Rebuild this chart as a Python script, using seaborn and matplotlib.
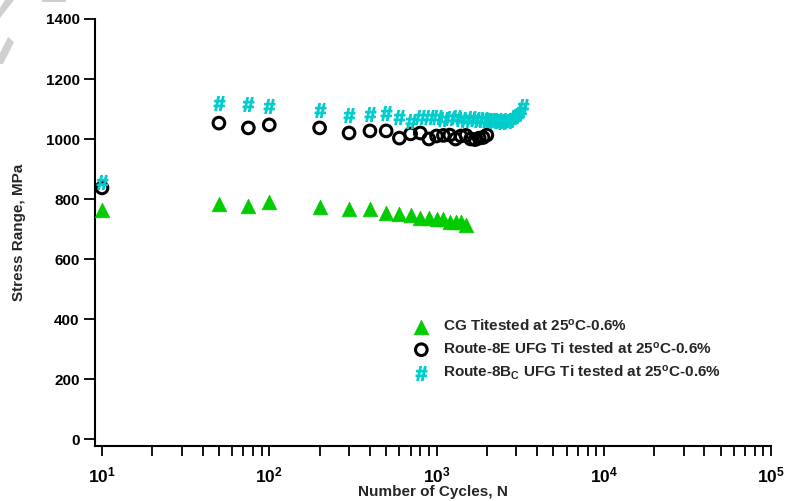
import matplotlib
matplotlib.use("Agg")
import matplotlib.pyplot as plt
from matplotlib.patches import Polygon
import numpy as np
import pandas as pd
import seaborn as sns

# Coarse-grained Ti, tested at 25 C, 0.6 % strain amplitude
cg_cycles = [10, 50, 75, 100, 200, 300, 400, 500, 600, 700, 800, 900,
             1000, 1100, 1200, 1300, 1400, 1500]
cg_stress = [765, 783, 778, 790, 773, 768, 767, 752, 750, 748, 737, 736,
             735, 733, 725, 724, 722, 712]

# Route-8E UFG Ti
e_cycles = [10, 50, 75, 100, 200, 300, 400, 500, 600, 700, 800, 900,
            1000, 1100, 1200, 1300, 1400, 1500, 1600, 1700, 1800, 1900, 2000]
e_stress = [837, 1053, 1037, 1047, 1037, 1020, 1027, 1027, 1003, 1017, 1020, 1000,
            1010, 1012, 1013, 1000, 1010, 1012, 1000, 998, 1003, 1005, 1013]

# Route-8Bc UFG Ti
bc_cycles = [10, 50, 75, 100, 200, 300, 400, 500, 600, 700, 800, 900,
             1000, 1100, 1200, 1300, 1400, 1500, 1600, 1700, 1800, 1900, 2000,
             2100, 2200, 2300, 2400, 2500, 2600, 2700, 2800, 2900, 3000, 3100,
             3200, 3300]
bc_stress = [857, 1120, 1117, 1110, 1097, 1080, 1083, 1087, 1072, 1060, 1072, 1075,
             1073, 1066, 1070, 1072, 1066, 1065, 1070, 1067, 1062, 1066, 1062,
             1065, 1060, 1063, 1060, 1058, 1062, 1060, 1065, 1072, 1078, 1085,
             1095, 1110]

labels = [r"CG Titested at 25$^{\rm o}$C-0.6%",
          r"Route-8E UFG Ti tested at 25$^{\rm o}$C-0.6%",
          r"Route-8B$_{\rm C}$ UFG Ti tested at 25$^{\rm o}$C-0.6%"]

y_ticks = [0, 200, 400, 600, 800, 1000, 1200, 1400]

sns.set_theme(style="white")
plt.rcParams["font.family"] = ["Liberation Sans", "DejaVu Sans"]
plt.rcParams["font.weight"] = "bold"
plt.rcParams["axes.labelweight"] = "bold"
plt.rcParams["mathtext.fontset"] = "custom"
plt.rcParams["mathtext.rm"] = "Liberation Sans:bold"
plt.rcParams["mathtext.bf"] = "Liberation Sans:bold"
plt.rcParams["mathtext.it"] = "Liberation Sans:bold"
plt.rcParams["mathtext.default"] = "rm"

W, H = 785, 501
fig = plt.figure(figsize=(W / 100, H / 100), dpi=100)
ax = fig.add_axes([95 / W, 1 - 446 / H, (771 - 95) / W, (446 - 19) / H])

df_cg = pd.DataFrame({"N": cg_cycles, "S": cg_stress})
df_e = pd.DataFrame({"N": e_cycles, "S": e_stress})
df_bc = pd.DataFrame({"N": bc_cycles, "S": bc_stress})

sns.scatterplot(data=df_cg, x="N", y="S", ax=ax, marker="^", s=110,
                color="#00CC00", edgecolor="#00CC00", linewidth=0.5,
                label=labels[0], zorder=3)
sns.scatterplot(data=df_e, x="N", y="S", ax=ax, marker="o", s=70,
                facecolor="none", edgecolor="black", linewidth=2.2,
                label=labels[1], zorder=3)
sns.scatterplot(data=df_bc, x="N", y="S", ax=ax, marker=r"$\#$", s=100,
                color="#00CCCC", edgecolor="#00CCCC", linewidth=0.9,
                label=labels[2], zorder=3)

ax.set_xscale("log")
ax.set_xlim(10 ** (1 - 7 / 167), 1e5)
ax.set_ylim(-23.3, 1400)
ax.set_yticks(y_ticks)
ax.set_yticklabels([str(v) for v in y_ticks])

for side in ("top", "right"):
    ax.spines[side].set_visible(False)
for side in ("left", "bottom"):
    ax.spines[side].set_color("black")
    ax.spines[side].set_linewidth(1.5)

ax.tick_params(axis="y", which="major", direction="out", length=8, width=1.3,
               colors="black", labelsize=11, pad=3, left=True)
ax.tick_params(axis="x", which="both", direction="out", length=7, width=1.3,
               colors="black", labelsize=12.5, pad=7, bottom=True)
ax.tick_params(axis="x", which="minor", length=7, width=1.3)

ax.set_xlabel("Number of Cycles, N", fontsize=11, fontweight="bold", labelpad=0)
ax.set_ylabel("Stress Range, MPa", fontsize=11, fontweight="bold", labelpad=14)

leg = ax.legend(loc="upper left", bbox_to_anchor=(0.459, 0.318), frameon=False,
                fontsize=11, handletextpad=0.85, labelspacing=0.45,
                handlelength=1.1, borderpad=0)
for t in leg.get_texts():
    t.set_fontweight("bold")

# light grey strokes in the top-left corner
def px_poly(pts):
    return Polygon([(x / W, 1 - y / H) for x, y in pts], closed=True,
                   transform=fig.transFigure, facecolor="#cfcfcf",
                   edgecolor="none")

fig.patches.append(px_poly([(5, 0), (14, 0), (0, 18), (0, 8)]))
fig.patches.append(px_poly([(8, 37), (14, 42), (3, 64), (0, 64), (0, 53)]))
fig.patches.append(px_poly([(42, 0), (66, 0), (66, 2), (42, 2)]))

fig.savefig("out.png", dpi=100)
